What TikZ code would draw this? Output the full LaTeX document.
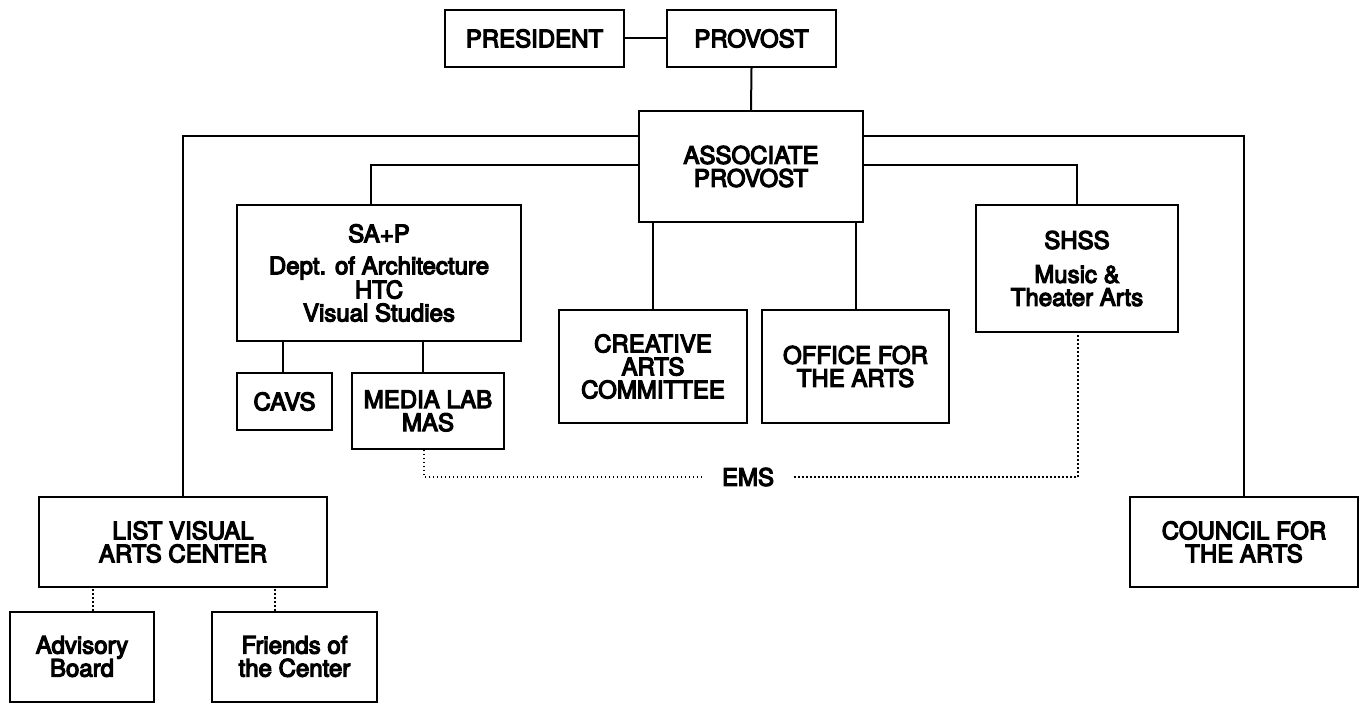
\documentclass[tikz,border=0pt]{standalone}
\usepackage{fontspec}
\newfontfamily\lab{TeX Gyre Heros}[FakeBold=5]
\begin{document}
\begin{tikzpicture}[x=1pt,y=-1pt,
  box/.style={draw, line width=2pt, inner sep=0pt, align=center,
    font=\lab\fontsize{24}{23}\selectfont},
  link/.style={line width=2pt},
  dotlink/.style={line width=2pt, dash pattern=on 1.4pt off 2.6pt}]
\useasboundingbox (0,0) rectangle (1365,703);
\node[box, minimum width=179, minimum height=57] (pres) at (534.5,38.5) {PRESIDENT};
\node[box, minimum width=169, minimum height=57] (prov) at (751.5,38.5) {PROVOST};
\node[box, minimum width=224, minimum height=111] (assoc) at (751,166.5) {ASSOCIATE\\PROVOST};
\node[box, minimum width=284, minimum height=136] (sap) at (379,273) {SA+P\\[9pt]Dept. of Architecture\\HTC\\Visual Studies};
\node[box, minimum width=95, minimum height=57] (cavs) at (284.5,401.5) {CAVS};
\node[box, minimum width=152, minimum height=76] (media) at (428,411) {MEDIA LAB\\MAS};
\node[box, minimum width=188, minimum height=113] (creat) at (653,366.5) {CREATIVE\\ARTS\\COMMITTEE};
\node[box, minimum width=187, minimum height=113] (office) at (855.5,366.5) {OFFICE FOR\\THE ARTS};
\node[box, minimum width=202, minimum height=127] (shss) at (1077,268.5) {SHSS\\[11pt]Music \&\\Theater Arts};
\node[box, minimum width=288, minimum height=90] (list) at (183,542) {LIST VISUAL\\ARTS CENTER};
\node[box, minimum width=228, minimum height=90] (council) at (1244,542) {COUNCIL FOR\\THE ARTS};
\node[box, minimum width=144, minimum height=90] (adv) at (82,656.5) {Advisory\\Board};
\node[box, minimum width=165, minimum height=90] (friends) at (294.5,656.5) {Friends of\\the Center};
\node[font=\lab\fontsize{24}{23}\selectfont, inner sep=0pt, minimum width=92, minimum height=20] (ems) at (748,477) {EMS};
\coordinate (yo) at (0,136);
\coordinate (yi) at (0,165);
\coordinate (emsr) at (1078,477);
% solid connectors
\draw[link] (pres.east) -- (prov.west);
\draw[link] (prov.south) -- (assoc.north);
\draw[link] (assoc.west |- yo) -| (list.north);
\draw[link] (assoc.east |- yo) -| (council.north);
\draw[link] (assoc.west |- yi) -| ([xshift=-8pt]sap.north);
\draw[link] (assoc.east |- yi) -| (shss.north);
\draw[link] (cavs.north -| 283,0) -- (sap.south -| 283,0);
\draw[link] ([xshift=-5pt]media.north) -- ([xshift=-5pt]media.north |- sap.south);
\draw[link] (creat.north) -- (creat.north |- assoc.south);
\draw[link] (office.north) -- (office.north |- assoc.south);
% dotted connectors
\draw[dotlink] ([xshift=-4pt]media.south) |- (ems.west);
\draw[dotlink] (ems.east) -- (emsr) -- (shss.south -| emsr);
\draw[dotlink] ([xshift=11pt]adv.north) -- ([xshift=11pt]adv.north |- list.south);
\draw[dotlink] ([xshift=-20pt]friends.north) -- ([xshift=-20pt]friends.north |- list.south);
\end{tikzpicture}
\end{document}
